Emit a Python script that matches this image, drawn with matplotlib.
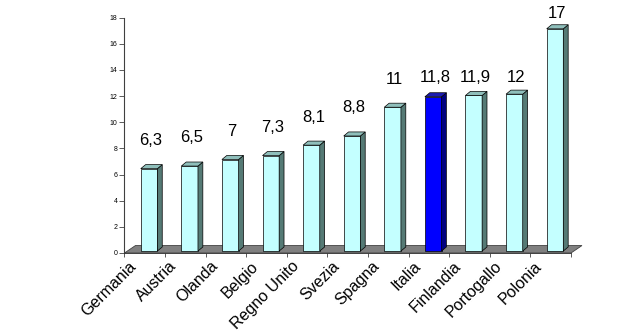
import numpy as np
import matplotlib
matplotlib.use("Agg")
import matplotlib.pyplot as plt
from matplotlib.patches import Polygon

# --- dati ---
paesi = ["Germania", "Austria", "Olanda", "Belgio", "Regno Unito", "Svezia",
         "Spagna", "Italia", "Finlandia", "Portogallo", "Polonia"]
valori = [6.3, 6.5, 7, 7.3, 8.1, 8.8, 11, 11.8, 11.9, 12, 17]
evidenziato = "Italia"

# --- stile ---
plt.rcParams['font.family'] = ['Liberation Sans', 'DejaVu Sans']
col_fronte, col_lato, col_top = "#c4ffff", "#557a75", "#8fbfbb"
col_fronte_hi, col_lato_hi, col_top_hi = "#0000ff", "#000080", "#1a1ab0"

# profondita' 3D (unita' dati)
pav_dx, pav_dy = 0.27, 0.57      # pavimento
bar_dx, bar_dy = 0.12, 0.31      # spessore barre
alzo = 0.15                      # barre poggiano un po' dentro il pavimento
x0_rel, larg = 0.40, 0.41

fig = plt.figure(figsize=(6.2, 3.35), dpi=100)
ax = fig.add_axes([0.2008, 0.2448, 0.7202, 0.7024])
n = len(paesi)
ax.set_xlim(0, n)
ax.set_ylim(0, 18)

# pavimento grigio
pav = Polygon([(0, 0), (n, 0), (n + pav_dx, pav_dy), (pav_dx, pav_dy)],
              closed=True, facecolor="#808080", edgecolor="#404040",
              lw=0.6, clip_on=False, zorder=1)
ax.add_patch(pav)

x = np.arange(n)
vals = np.array(valori)
hi = np.array([p == evidenziato for p in paesi])
fronti = [col_fronte_hi if h else col_fronte for h in hi]

ax.bar(x + x0_rel, vals, width=larg, bottom=alzo, align="edge",
       color=fronti, edgecolor="black", lw=0.5, zorder=3)

for xi, v, h in zip(x, vals, hi):
    a = xi + x0_rel
    b = a + larg
    top = v + alzo
    lato = Polygon([(b, alzo), (b + bar_dx, alzo + bar_dy),
                    (b + bar_dx, top + bar_dy), (b, top)],
                   facecolor=col_lato_hi if h else col_lato,
                   edgecolor="black", lw=0.5, zorder=3, clip_on=False)
    tetto = Polygon([(a, top), (b, top), (b + bar_dx, top + bar_dy),
                     (a + bar_dx, top + bar_dy)],
                    facecolor=col_top_hi if h else col_top,
                    edgecolor="black", lw=0.5, zorder=3, clip_on=False)
    ax.add_patch(lato)
    ax.add_patch(tetto)

# etichette valori
ety = np.where(vals > 15, vals + 1.3, np.minimum(vals + 2.3, 13.4))
for xi, v, yy in zip(x, vals, ety):
    testo = f"{v:g}".replace(".", ",")
    ax.text(xi + 0.65, yy, testo, ha="center", va="center", fontsize=12)

# assi
for s in ("top", "right"):
    ax.spines[s].set_visible(False)
ax.spines["left"].set_color("#404040")
ax.spines["bottom"].set_color("#303030")
ax.spines["bottom"].set_linewidth(0.6)

ax.set_yticks(np.arange(0, 19, 2))
ax.tick_params(axis="y", labelsize=5, length=3.5, width=0.6, pad=1.5,
               colors="#404040", labelcolor="black")

ax.set_xticks(np.arange(0, n + 1))
ax.set_xticklabels([])
ax.tick_params(axis="x", which="major", length=3, width=0.6, colors="#404040")
ax.set_xticks(x + 0.1, minor=True)
ax.set_xticklabels(paesi, minor=True, rotation=45, ha="right",
                   rotation_mode="anchor", fontsize=11.5)
ax.tick_params(axis="x", which="minor", length=0, pad=4)

fig.savefig("out.png", dpi=100)
